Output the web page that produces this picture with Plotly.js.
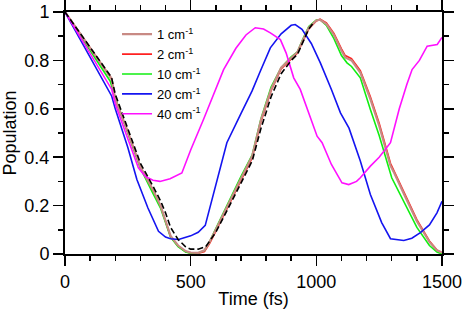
<!DOCTYPE html>
<html><head><meta charset="utf-8">
<script src="https://cdn.plot.ly/plotly-3.0.1.min.js"></script>
<style>html,body{margin:0;padding:0;background:#fff}#c{width:463px;height:309px}</style>
</head><body><div id="c"></div><script>
// Data (time in fs, population)
const t1 = [0,185,200,250,300,350,380,400,420,450,480,500,530,555,575,600,650,700,745,780,820,860,900,925,945,970,1000,1015,1040,1070,1100,1115,1140,1175,1215,1250,1295,1310,1350,1400,1450,1480,1500];
const p1 = [1,0.725,0.64,0.505,0.36,0.265,0.2,0.14,0.075,0.035,0.012,0.006,0.005,0.015,0.05,0.1,0.205,0.31,0.405,0.555,0.68,0.77,0.81,0.835,0.88,0.935,0.965,0.968,0.95,0.905,0.84,0.812,0.8,0.75,0.64,0.53,0.365,0.335,0.245,0.135,0.05,0.015,0.006];
const t2 = [0,185,200,250,300,350,380,400,420,450,480,500,530,555,575,600,650,700,745,780,820,860,900,925,945,970,1000,1015,1040,1070,1100,1115,1140,1175,1215,1250,1295,1310,1350,1400,1450,1480,1500];
const p2 = [1,0.724,0.638,0.503,0.358,0.262,0.197,0.137,0.072,0.032,0.009,0.004,0.003,0.01,0.043,0.093,0.198,0.302,0.398,0.548,0.675,0.765,0.806,0.83,0.875,0.93,0.963,0.97,0.955,0.912,0.848,0.82,0.807,0.758,0.65,0.54,0.375,0.343,0.253,0.142,0.054,0.016,0.005];
const t10 = [0,180,200,250,300,350,380,400,420,450,480,500,530,555,575,600,650,700,745,780,820,860,900,925,945,970,1000,1015,1040,1070,1100,1122,1140,1175,1215,1250,1300,1350,1400,1450,1480,1500];
const p10 = [1,0.714,0.645,0.5,0.355,0.25,0.19,0.13,0.07,0.03,0.008,0.003,0.004,0.015,0.05,0.105,0.215,0.32,0.41,0.56,0.69,0.77,0.815,0.835,0.885,0.94,0.967,0.968,0.945,0.89,0.82,0.79,0.775,0.728,0.597,0.49,0.315,0.21,0.11,0.035,0.008,0.0];
const t20 = [0,186,200,250,286,330,372,400,420,452,500,530,558,600,644,700,744,777,817,860,900,916,943,980,1016,1060,1096,1130,1175,1215,1260,1295,1348,1380,1414,1450,1480,1500];
const p20 = [1,0.652,0.6,0.44,0.308,0.19,0.094,0.07,0.063,0.06,0.075,0.09,0.118,0.29,0.46,0.58,0.673,0.755,0.852,0.91,0.945,0.948,0.928,0.87,0.79,0.68,0.583,0.52,0.384,0.246,0.13,0.063,0.056,0.065,0.088,0.12,0.17,0.218];
const t40 = [0,186,200,250,292,320,350,378,418,465,500,551,600,631,680,720,757,790,817,857,880,910,936,970,1003,1023,1060,1102,1129,1160,1175,1215,1250,1295,1330,1360,1381,1410,1441,1481,1500];
const p40 = [1,0.68,0.62,0.48,0.356,0.32,0.305,0.3,0.311,0.335,0.43,0.556,0.68,0.762,0.85,0.905,0.935,0.93,0.914,0.886,0.83,0.728,0.68,0.58,0.487,0.46,0.37,0.294,0.287,0.3,0.315,0.363,0.4,0.46,0.6,0.7,0.762,0.8,0.859,0.866,0.895];
const tRef = [0,185,200,250,300,350,380,400,420,450,480,500,530,560,600,650,700,745,780,820,860,900,925,945,970,990];
const pRef = [1,0.73,0.66,0.52,0.375,0.28,0.22,0.17,0.11,0.06,0.03,0.02,0.02,0.03,0.09,0.19,0.29,0.385,0.52,0.65,0.745,0.8,0.825,0.87,0.93,0.958];
const names = ['1 cm<sup>-1</sup>','2 cm<sup>-1</sup>','10 cm<sup>-1</sup>','20 cm<sup>-1</sup>','40 cm<sup>-1</sup>'];
const colors = ['#c88a84','#ff2020','#10ee10','#1414f0','#ff10ff'];
const widths = [2.2,1.6,1.6,1.6,1.6];

const xs = [t1,t2,t10,t20,t40], ys = [p1,p2,p10,p20,p40];
const mk = i => ({x:xs[i],y:ys[i],type:'scatter',mode:'lines',name:names[i],legendrank:i+1,
  line:{color:colors[i],width:widths[i]}});
const traces = [mk(1),mk(2),mk(0),mk(3),mk(4)];
traces.push({x:tRef,y:pRef,type:'scatter',mode:'lines',showlegend:false,
  line:{color:'#000',width:1.6,dash:'6px,3px'}});

const font = {family:'Liberation Sans, Arial, Helvetica, sans-serif',size:18,color:'#000'};
const axBase = {showgrid:false,zeroline:false,showline:true,linecolor:'#000',linewidth:2,
  mirror:'allticks',ticks:'outside',ticklen:10,tickwidth:1.5,tickcolor:'#000',tickfont:font};
const layout = {
  width:463,height:309,margin:{l:65,r:21,t:12,b:55},
  paper_bgcolor:'#fff',plot_bgcolor:'#fff',font:font,
  xaxis:Object.assign({},axBase,{range:[0,1500],dtick:500,tick0:0,
    minor:{dtick:100,ticklen:5,tickwidth:1.5,tickcolor:'#000',ticks:'outside'},
    title:{text:'Time (fs)',font:font,standoff:2}}),
  yaxis:Object.assign({},axBase,{range:[0,1],dtick:0.2,tick0:0,
    minor:{dtick:0.1,ticklen:5,tickwidth:1.5,tickcolor:'#000',ticks:'outside'},
    title:{text:'Population',font:font,standoff:4}}),
  legend:{x:0.138,y:0.97,xanchor:'left',yanchor:'top',bgcolor:'rgba(0,0,0,0)',
    borderwidth:0,font:{family:font.family,size:13,color:'#000'},tracegroupgap:0},
  showlegend:true
};
Plotly.newPlot('c',traces,layout,{displayModeBar:false,staticPlot:true});
</script></body></html>
